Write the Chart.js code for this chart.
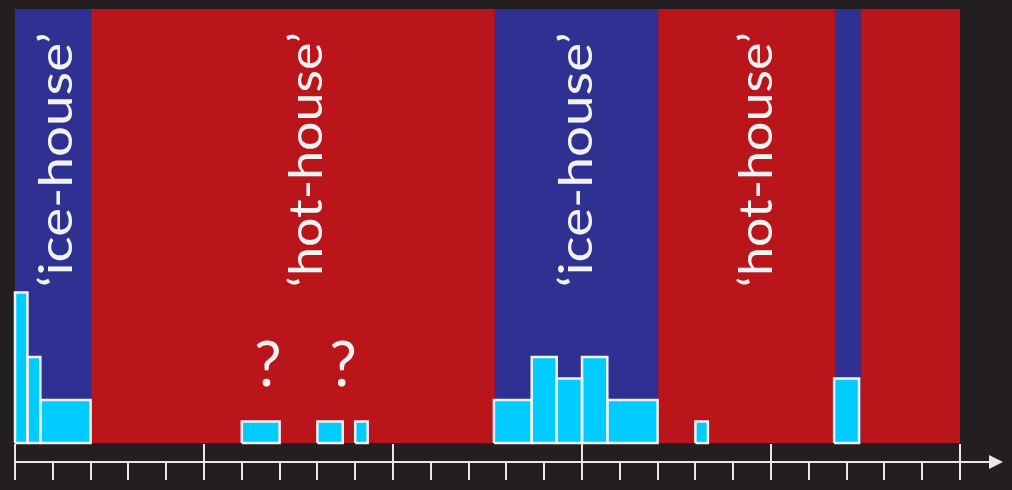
<!DOCTYPE html>
<html>
<head>
<meta charset="utf-8">
<script src="https://cdn.jsdelivr.net/npm/chart.js@4.4.1/dist/chart.umd.min.js"></script>
<style>
  html, body { margin: 0; padding: 0; background: #231f20; }
  #wrap { width: 1012px; height: 490px; }
</style>
</head>
<body>
<div id="wrap"><canvas id="c" width="1012" height="490"></canvas></div>
<script>
// ---- data (x in axis tick units, 25 minor intervals) ----
const bandStart = [0, 2, 12.67, 17, 21.67, 22.35];
const bandEnd   = [2, 12.67, 17, 21.67, 22.35, 25];
const bandKind  = ['ice', 'hot', 'ice', 'hot', 'ice', 'hot'];

const binStart = [0, 0.33, 0.67, 6, 8, 9, 12.67, 13.67, 14.33, 15, 15.67, 18, 21.67];
const binEnd   = [0.33, 0.67, 2, 7, 8.67, 9.33, 13.67, 14.33, 15, 15.67, 17, 18.33, 22.33];
const binCount = [7, 4, 2, 1, 1, 1, 2, 4, 3, 4, 2, 1, 3];

const labelText = ['\u2018ice-house\u2019', '\u2018hot-house\u2019', '\u2018ice-house\u2019', '\u2018hot-house\u2019'];
const labelX    = [1.52, 8.12, 15.26, 20.03];
const labelY    = [7.25, 7.25, 7.25, 7.25];

const qText = ['?', '?'];
const qX    = [6.69, 8.68];
const qY    = [2.65, 2.65];

const tickValues = [0,1,2,3,4,5,6,7,8,9,10,11,12,13,14,15,16,17,18,19,20,21,22,23,24,25];
const majorTicks = [0, 5, 10, 15, 20, 25];

const X_MAX = 25;
const Y_MAX = 20.2;

// ---- styles ----
const COLORS = { ice: '#2e3192', hot: '#b9151b', bar: '#00ccff', white: '#f2f2f2', axis: '#e8e8e8' };

const datasets = [];
bandStart.forEach((s, i) => {
  const e = bandEnd[i];
  const col = COLORS[bandKind[i]];
  datasets.push({
    type: 'line',
    data: [{x: s, y: 0}, {x: s, y: Y_MAX}, {x: e, y: Y_MAX}, {x: e, y: 0}],
    fill: 'origin',
    backgroundColor: col,
    borderColor: col,
    borderWidth: 1,
    pointRadius: 0,
    order: 10
  });
});
binStart.forEach((s, i) => {
  const e = binEnd[i];
  const h = binCount[i];
  datasets.push({
    type: 'line',
    data: [{x: s, y: 0}, {x: s, y: h}, {x: e, y: h}, {x: e, y: 0}],
    fill: 'origin',
    backgroundColor: COLORS.bar,
    borderWidth: 0,
    pointRadius: 0,
    order: 5
  });
  datasets.push({
    type: 'line',
    data: [{x: s, y: 0}, {x: s, y: h}, {x: e, y: h}, {x: e, y: 0}, {x: s, y: 0}],
    fill: false,
    borderColor: COLORS.white,
    borderWidth: 2.5,
    borderJoinStyle: 'miter',
    pointRadius: 0,
    clip: false,
    order: 1
  });
});

const annotations = {
  id: 'annotations',
  afterDatasetsDraw(chart) {
    const ctx = chart.ctx, xs = chart.scales.x, ys = chart.scales.y;
    ctx.save();
    ctx.fillStyle = COLORS.white;
    const targetLen = 255;
    labelText.forEach((t, i) => {
      const px = xs.getPixelForValue(labelX[i]);
      const py = ys.getPixelForValue(labelY[i]);
      ctx.save();
      ctx.translate(px, py);
      ctx.rotate(-Math.PI / 2);
      ctx.font = '400 47px Lato';
      ctx.textAlign = 'left';
      ctx.textBaseline = 'alphabetic';
      const w = ctx.measureText(t).width;
      ctx.scale(targetLen / w, 1);
      ctx.fillText(t, 0, 0);
      ctx.restore();
    });
    qText.forEach((t, i) => {
      const px = xs.getPixelForValue(qX[i]);
      const py = ys.getPixelForValue(qY[i]);
      ctx.font = '400 61px Lato';
      ctx.textAlign = 'center';
      ctx.textBaseline = 'alphabetic';
      ctx.fillText(t, px, py);
    });
    ctx.restore();
  },
  afterDraw(chart) {
    const ctx = chart.ctx, xs = chart.scales.x;
    const bottom = chart.chartArea.bottom;
    const axisY = bottom + 19;
    const tickEnd = bottom + 37;
    ctx.save();
    ctx.strokeStyle = COLORS.axis;
    ctx.fillStyle = COLORS.axis;
    ctx.lineWidth = 2;
    ctx.beginPath();
    ctx.moveTo(xs.getPixelForValue(0) - 1, axisY);
    ctx.lineTo(992, axisY);
    ctx.stroke();
    ctx.beginPath();
    ctx.moveTo(989, axisY - 7);
    ctx.lineTo(1003, axisY);
    ctx.lineTo(989, axisY + 7);
    ctx.closePath();
    ctx.fill();
    tickValues.forEach(v => {
      const px = Math.round(xs.getPixelForValue(v));
      const major = majorTicks.includes(v);
      ctx.beginPath();
      ctx.moveTo(px, major ? bottom + 1 : axisY);
      ctx.lineTo(px, tickEnd);
      ctx.stroke();
    });
    ctx.restore();
  }
};

new Chart(document.getElementById('c'), {
  type: 'scatter',
  data: { datasets },
  options: {
    responsive: false,
    devicePixelRatio: 1,
    animation: false,
    layout: { padding: { left: 15, right: 52, top: 9, bottom: 47 } },
    scales: {
      x: { type: 'linear', min: 0, max: X_MAX, display: false },
      y: { type: 'linear', min: 0, max: Y_MAX, display: false }
    },
    plugins: { legend: { display: false }, tooltip: { enabled: false } }
  },
  plugins: [annotations]
});
</script>
</body>
</html>
